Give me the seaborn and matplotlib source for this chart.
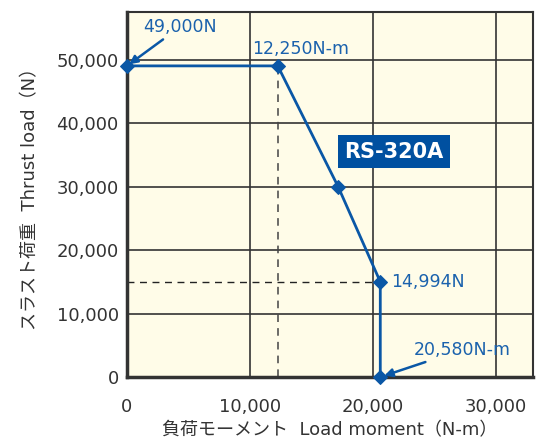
import numpy as np
import matplotlib.pyplot as plt
import pandas as pd
import seaborn as sns

moment = [0, 12250, 17150, 20580, 20580]
thrust = [49000, 49000, 30000, 14994, 0]
xticks = [0, 10000, 20000, 30000]
yticks = [0, 10000, 20000, 30000, 40000, 50000]

blue = '#0a57a6'
sns.set_style('white')
plt.rcParams['font.family'] = ['DejaVu Sans', 'Noto Sans CJK JP']

df = pd.DataFrame({'moment': moment, 'thrust': thrust})

fig = plt.figure(figsize=(5.38, 4.41), dpi=100)
ax = fig.add_axes([0.236, 0.145, 0.755, 0.828])
ax.set_facecolor('#fffce8')

ax.set_xlim(0, 33000)
ax.set_ylim(0, 57500)
ax.set_xticks(xticks)
ax.set_yticks(yticks)
ax.set_xticks([5000, 15000, 25000], minor=True)
ax.set_xticklabels([f'{v:,}' for v in xticks], fontsize=13, color='#333333')
ax.set_yticklabels([f'{v:,}' for v in yticks], fontsize=13, color='#333333')
ax.tick_params(axis='y', which='major', length=0, pad=6)
ax.tick_params(axis='x', which='major', length=0, pad=15)
ax.tick_params(axis='x', which='minor', direction='in', length=5, width=1.2, color='#333333')
ax.grid(True, which='major', color='#333333', lw=1.2)
for s in ax.spines.values():
    s.set_color('#333333')
    s.set_linewidth(1.5)
ax.spines['left'].set_linewidth(2.5)
ax.spines['bottom'].set_linewidth(2.5)

# dashed reference lines
ax.plot([moment[1], moment[1]], [0, thrust[1]], ls=(0, (5, 4)), color='#444444', lw=1.1)
ax.plot([0, moment[3]], [thrust[3], thrust[3]], ls=(0, (5, 4)), color='#222222', lw=1.0)

sns.lineplot(data=df, x='moment', y='thrust', sort=False, estimator=None, color=blue, lw=2,
             marker='D', markersize=7, markeredgecolor=blue, ax=ax, clip_on=False, zorder=5)

txt = '#1b62ad'
ax.annotate('49,000N', xy=(0, thrust[0]), xytext=(1300, 55100), fontsize=12.5, color=txt,
            va='center', arrowprops=dict(arrowstyle='-|>', color=blue, lw=1.8, mutation_scale=12,
                                         shrinkA=0, shrinkB=2), annotation_clip=False)
ax.text(10200, 50900, '12,250N-m', fontsize=12.5, color=txt)
ax.text(21500, thrust[3], '14,994N', fontsize=12.5, color=txt, va='center')
ax.annotate('20,580N-m', xy=(moment[4], 0), xytext=(23300, 4300), fontsize=12.5, color=txt,
            va='center', arrowprops=dict(arrowstyle='-|>', color=blue, lw=1.8, mutation_scale=12,
                                         shrinkA=0, shrinkB=3))
ax.text(21700, 35500, 'RS-320A', fontsize=15, color='white', fontweight='bold', va='center',
        ha='center', bbox=dict(boxstyle='square,pad=0.3', fc='#0050a0', ec='none'), zorder=6)

ax.set_xlabel('負荷モーメント  Load moment（N-m）', fontsize=13, color='#333333', labelpad=4)
ax.set_ylabel('スラスト荷重  Thrust load（N）', fontsize=13, color='#333333', labelpad=12)

fig.savefig('out.png', dpi=100)
